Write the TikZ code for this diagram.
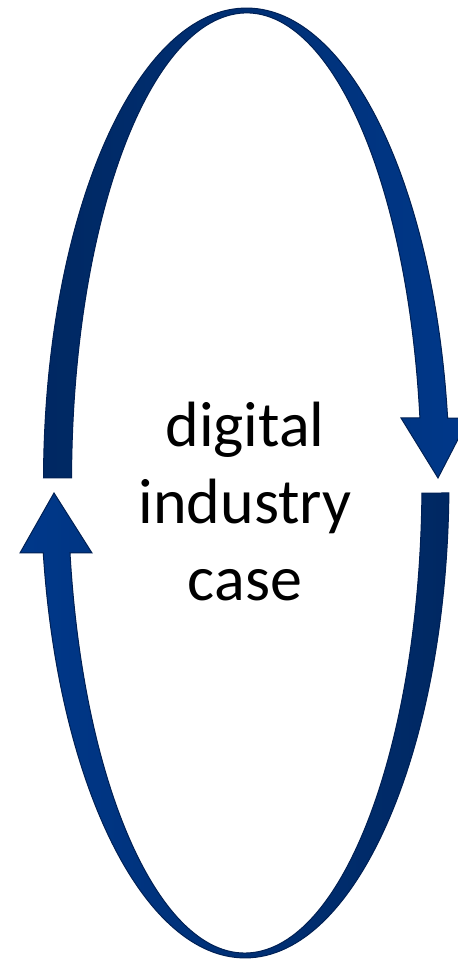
\documentclass[tikz,border=0pt]{standalone}
\usepackage{fontspec}
\setmainfont{Carlito}
\definecolor{navydark}{RGB}{0,40,98}
\definecolor{navylight}{RGB}{0,56,138}
\definecolor{navyedge}{RGB}{0,32,84}

\begin{document}
\begin{tikzpicture}[x=0.5pt,y=0.5pt,
    band/.style={draw=navyedge,line width=0.5pt,line join=miter},
    caption/.style={align=center,inner sep=0pt,font=\fontsize{32}{38.5}\selectfont}]

                \useasboundingbox (0,0) rectangle (457,963);

                \path[band,left color=navydark,right color=navylight]
                    (43.5,485.1) arc[start angle=179.5,end angle=7.76,x radius=203,y radius=474]
                    -- (469,545) -- (438,485) -- (401,545)
                    -- (419.9,545) arc[start angle=7.84,end angle=179.5,x radius=175,y radius=469]
                    -- cycle;

                \path[band,left color=navylight,right color=navydark]
                    (448.9,470) arc[start angle=-1.33,end angle=-171.42,x radius=204,y radius=476]
                    -- (20,410) -- (54,470) -- (92,410)
                    -- (70,410) arc[start angle=-171.33,end angle=-1.34,x radius=177,y radius=471]
                    -- cycle;

                \node[caption] (case) at (245,461.5) {digital\\industry\\case};

            \end{tikzpicture}
\end{document}
